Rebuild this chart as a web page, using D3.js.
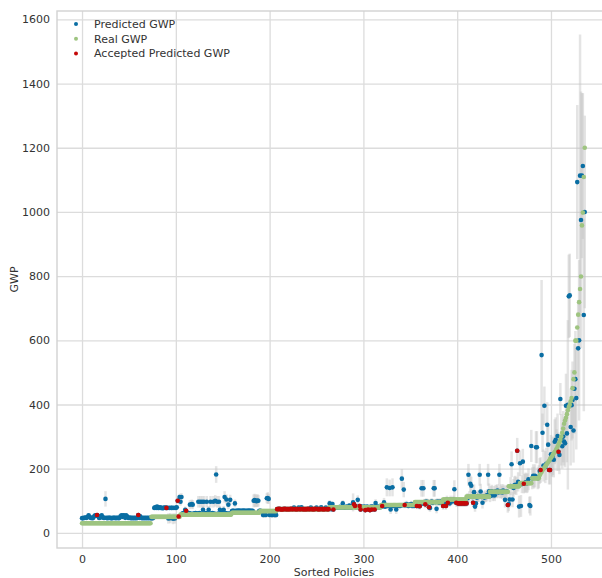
<!DOCTYPE html>
<html>
<head>
<meta charset="utf-8">
<script src="https://cdn.jsdelivr.net/npm/d3@7"></script>
<style>
  body { margin: 0; background: #fff; }
  text { font-family: "DejaVu Sans", sans-serif; }
</style>
</head>
<body>
<svg id="chart" width="602" height="578"></svg>
<script>
// Real GWP of the sorted policies: [value, number of policies with that value]
var realRuns = [[30,74],[50,31],[57,55],[63,30],[68,18],[74,56],[80,55],[87,36],
                [96,30],[104,25],[113,25],[128,20],[145,12],[155,13],[170,8]];
// last policies, one value each (488 .. 536)
var realTail = [180,185,190,195,200,204,208,212,216,220,225,230,234,238,243,248,252,256,
                262,268,275,282,290,300,312,325,340,350,359,370,382,392,399,410,420,451,
                479,500,599,599,640,680,719,760,799,958,998,1109,1200];

// Predicted GWP, one per policy (rows of 20)
var predicted = [
  46,46,47,47,48,47,50,55,50,47,47,46,47,52,55,54,56,53,47,47,
  52,55,48,47,47,106,47,46,47,47,47,46,46,47,47,47,46,47,47,46,
  47,52,55,50,55,54,47,55,52,47,47,48,46,47,46,47,46,47,46,47,
  56,47,52,47,46,47,46,47,46,47,46,47,46,47,46,46,47,78,80,78,
  82,78,78,80,78,78,77,78,79,78,78,78,45,78,46,78,78,44,78,45,
  78,80,100,51,112,97,112,60,62,60,72,69,60,60,62,88,60,90,88,60,
  60,62,60,60,97,62,97,60,97,72,97,60,62,97,60,72,60,97,60,62,
  97,60,100,182,97,60,97,72,60,62,60,72,112,62,104,60,88,60,103,60,
  69,69,69,92,69,69,69,70,69,69,69,69,70,69,69,69,69,69,70,69,
  69,69,69,100,102,100,99,101,100,69,69,68,66,56,56,57,56,108,109,106,
  56,57,56,56,57,56,56,56,74,74,75,74,74,73,74,74,75,74,74,74,
  74,74,74,75,74,74,79,74,74,74,74,79,74,74,80,74,74,74,74,74,
  74,75,74,74,79,74,74,74,74,75,79,74,74,74,74,80,74,74,74,74,
  79,74,74,74,92,75,74,90,73,79,80,79,80,79,80,81,79,80,92,79,
  80,79,82,80,79,85,80,79,82,95,89,84,80,82,103,80,84,73,82,77,
  80,82,71,80,82,73,80,71,82,73,82,80,73,93,80,82,80,81,80,84,
  84,83,95,82,83,142,84,85,140,73,84,142,84,86,84,73,84,85,86,84,
  86,169,86,135,87,86,90,86,84,88,86,90,84,88,84,86,90,84,86,84,
  83,90,139,92,139,96,89,98,92,96,80,78,96,98,94,139,139,96,75,98,
  96,94,98,96,94,84,100,96,84,104,94,100,92,104,100,98,104,136,100,94,
  94,92,92,94,92,92,94,92,92,94,92,108,181,112,153,147,112,94,127,82,
  92,110,115,112,181,129,112,94,114,110,115,112,118,181,130,114,128,130,117,126,
  117,130,128,132,126,181,128,130,126,132,128,103,128,130,87,90,104,146,214,104,
  140,148,150,146,256,159,82,217,84,152,222,153,155,158,154,156,167,87,84,271,
  170,178,172,178,267,267,170,175,
  193,196,554,312,210,396,205,215,337,275,196,196,245,230,240,228,284,290,258,302,
  253,243,417,290,270,300,285,279,396,310,399,737,740,330,398,414,319,449,479,420,
  1093,575,600,1113,975,1113,1143,679,1000
];

// half length of the grey uncertainty bar for each prediction
var spread = [
  3,3,3,3,4,3,5,6,5,3,3,3,3,5,6,5,6,5,3,3,
  5,6,4,3,3,24,3,3,3,3,3,3,3,3,3,3,3,3,3,3,
  3,5,6,5,6,5,3,6,5,3,3,4,3,3,3,3,3,3,3,3,
  5,3,5,3,3,3,3,3,3,3,3,3,3,3,8,8,8,6,6,6,
  6,6,6,6,6,6,6,6,6,6,6,6,16,6,16,6,6,17,6,16,
  6,6,10,8,10,12,12,6,6,6,10,8,6,6,6,14,6,14,14,6,
  6,6,6,6,18,6,18,6,18,12,18,6,6,18,6,12,6,18,6,6,
  18,6,18,26,18,6,18,12,6,6,6,12,18,6,16,6,14,6,16,6,
  4,4,4,12,4,4,4,4,4,4,4,4,4,4,4,4,4,4,4,4,
  4,4,4,20,20,20,18,20,18,4,6,6,6,8,8,8,8,16,18,16,
  8,8,8,8,8,8,8,8,4,4,4,4,4,4,4,4,4,4,4,4,
  4,4,4,4,4,4,6,4,4,4,4,6,4,4,6,4,4,4,4,4,
  4,4,4,4,6,4,4,4,4,4,6,4,4,4,4,6,4,4,4,4,
  6,4,4,4,10,4,4,8,6,6,6,6,6,6,6,6,6,6,10,6,
  6,6,6,6,6,8,6,6,6,28,8,8,6,6,14,6,8,8,6,6,
  6,6,8,6,6,8,6,8,6,8,6,6,8,12,6,6,6,6,6,8,
  8,6,14,6,8,28,8,8,26,14,8,28,8,8,8,14,8,8,8,8,
  8,30,8,24,10,8,10,8,8,8,8,10,8,8,8,8,10,10,8,8,
  10,10,26,10,26,10,12,10,10,10,10,12,10,10,10,26,26,10,14,10,
  10,10,10,10,10,12,12,10,12,12,12,12,10,12,12,10,12,28,12,12,
  12,10,10,12,10,10,12,10,10,12,10,16,34,18,26,28,18,14,24,16,
  16,16,18,16,34,24,16,18,16,16,18,16,18,34,24,18,18,20,18,20,
  18,20,20,20,18,34,20,22,20,20,20,24,20,20,24,22,24,28,40,24,
  28,28,28,28,40,30,34,40,34,28,40,30,30,30,30,30,34,26,30,50,
  34,36,34,36,50,50,34,36,
  40,40,234,60,50,60,50,50,70,60,45,45,60,55,60,55,70,70,65,70,
  60,60,50,80,70,80,75,75,100,90,264,130,130,120,110,120,100,140,150,160,
  240,150,250,440,400,257,227,300,300
];

// policies whose prediction was accepted
var accepted = [16,60,90,102,103,111,
  208,209,210,211,212,213,214,215,216,217,218,219,220,221,222,223,224,225,227,228,229,230,
  232,233,235,236,237,238,239,240,241,242,243,245,246,247,248,249,251,252,253,254,256,257,
  258,259,261,262,263,
  268,290,291,296,297,302,305,307,309,312,320,344,357,360,366,370,385,388,390,399,
  401,402,404,405,407,408,410,417,454,464,471,489,498,499,508];

var xTicks = [0,100,200,300,400,500];
var yTicks = [0,200,400,600,800,1000,1200,1400,1600];

var series = [
  {name: "Predicted GWP", color: "#0a6ea3"},
  {name: "Real GWP", color: "#9ec480"},
  {name: "Accepted Predicted GWP", color: "#c40808"}
];

var real = [];
realRuns.forEach(function(r){ for (var k = 0; k < r[1]; k++) real.push(r[0]); });
realTail.forEach(function(v){ real.push(v); });

var pts = predicted.map(function(p, i){
  return {i: i, pred: p, s: spread[i] || 0, real: real[i]};
});
var acc = accepted.map(function(i){ return pts[i]; });

var L = 57, R = 611, T = 11, B = 548;
var x = d3.scaleLinear().domain([-26.7, 564]).range([L, R]);
var y = d3.scaleLinear().domain([-47, 1626]).range([B, T]);

var svg = d3.select("#chart");

svg.append("clipPath").attr("id", "plotclip")
  .append("rect").attr("x", L).attr("y", T).attr("width", R - L).attr("height", B - T);

// grid + tick labels
var gy = svg.append("g").attr("transform", "translate(" + L + ",0)")
  .call(d3.axisLeft(y).tickValues(yTicks).tickSize(-(R - L)).tickPadding(7).tickFormat(d3.format("d")));
var gx = svg.append("g").attr("transform", "translate(0," + B + ")")
  .call(d3.axisBottom(x).tickValues(xTicks).tickSize(-(B - T)).tickPadding(7).tickFormat(d3.format("d")));
[gx, gy].forEach(function(g){
  g.select(".domain").remove();
  g.selectAll(".tick line").attr("stroke", "#dcdcdc").attr("stroke-width", 1.3);
  g.selectAll(".tick text").attr("fill", "#333").attr("font-size", 11)
    .attr("font-family", "DejaVu Sans, sans-serif");
});

// frame
svg.append("rect").attr("x", L).attr("y", T).attr("width", R - L).attr("height", B - T)
  .attr("fill", "none").attr("stroke", "#d2d2d2").attr("stroke-width", 1.4);

var plot = svg.append("g").attr("clip-path", "url(#plotclip)");

plot.selectAll(".bar").data(pts).enter().append("line")
  .attr("class", "bar")
  .attr("x1", function(d){ return x(d.i); })
  .attr("x2", function(d){ return x(d.i); })
  .attr("y1", function(d){ return y(d.pred - d.s); })
  .attr("y2", function(d){ return y(d.pred + d.s); })
  .attr("stroke", "#c4c4c4").attr("stroke-opacity", 0.45).attr("stroke-width", 2.5);

plot.selectAll(".pred").data(pts).enter().append("circle")
  .attr("class", "pred")
  .attr("cx", function(d){ return x(d.i); })
  .attr("cy", function(d){ return y(d.pred); })
  .attr("r", 2.3).attr("fill", series[0].color);

plot.selectAll(".real").data(pts).enter().append("circle")
  .attr("class", "real")
  .attr("cx", function(d){ return x(d.i); })
  .attr("cy", function(d){ return y(d.real); })
  .attr("r", 2.3).attr("fill", series[1].color);

plot.selectAll(".acc").data(acc).enter().append("circle")
  .attr("class", "acc")
  .attr("cx", function(d){ return x(d.i); })
  .attr("cy", function(d){ return y(d.pred); })
  .attr("r", 2.3).attr("fill", series[2].color);

// axis titles
svg.append("text").attr("x", (L + R) / 2).attr("y", 575.5).attr("text-anchor", "middle")
  .attr("font-size", 11).attr("fill", "#333").text("Sorted Policies");
svg.append("text").attr("transform", "translate(18," + ((T + B) / 2) + ") rotate(-90)")
  .attr("text-anchor", "middle").attr("font-size", 11).attr("fill", "#333").text("GWP");

// legend
var leg = svg.append("g").selectAll("g").data(series).enter().append("g")
  .attr("transform", function(d, k){ return "translate(76," + (24 + k * 14.7) + ")"; });
leg.append("circle").attr("r", 2).attr("fill", function(d){ return d.color; });
leg.append("text").attr("x", 18).attr("dy", "0.35em").attr("font-size", 11)
  .attr("fill", "#333").text(function(d){ return d.name; });
</script>
</body>
</html>
